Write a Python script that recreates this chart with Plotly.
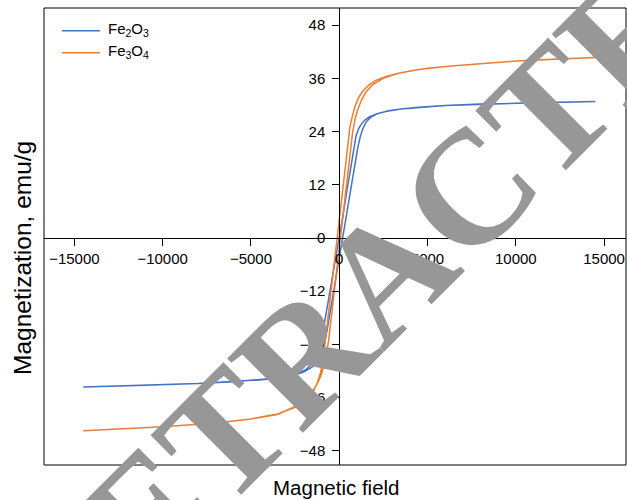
import plotly.graph_objects as go

# Hysteresis loops: magnetization (emu/g) against applied magnetic field
series_names = ["Fe<sub>2</sub>O<sub>3</sub>", "Fe<sub>3</sub>O<sub>4</sub>"]
series_colors = ["#4472C4", "#ED7D31"]

# Fe2O3 - field sweep from +H to -H (upper branch)
fe2o3_h_down = [14500, 11000, 8000, 6000, 4500, 3500, 2700, 2100, 1700, 1450, 1250, 1100,
                950, 800, 600, 400, 200, 0, -200, -400, -600, -800, -950, -1100, -1300,
                -1550, -1900, -2500, -3500, -4500, -6000, -8000, -11000, -14500]
fe2o3_m_down = [30.8, 30.5, 30.2, 29.9, 29.5, 29.1, 28.6, 28.0, 27.3, 26.6, 25.7, 24.7,
                23.0, 19.6, 14.6, 9.8, 4.8, 0.0, -4.8, -9.6, -14.2, -18.6, -21.8, -24.4, -26.7,
                -28.4, -29.7, -30.8, -31.6, -32.0, -32.4, -32.8, -33.2, -33.6]

# Fe2O3 - field sweep from -H to +H (lower branch)
fe2o3_h_up = [-14500, -11000, -8000, -6000, -4500, -3500, -2500, -2000, -1500, -1200, -1000,
              -850, -700, -500, -300, -100, 100, 300, 500, 700, 900, 1050, 1200, 1350, 1550,
              1800, 2200, 2800, 3500, 4500, 6000, 8000, 11000, 14500]
fe2o3_m_up = [-33.6, -33.2, -32.8, -32.4, -32.0, -31.6, -30.9, -30.2, -29.0, -27.6, -25.9,
              -23.9, -21.1, -16.3, -11.5, -6.7, -1.9, 2.9, 7.7, 12.5, 17.2, 20.4, 23.0, 24.8, 26.3,
              27.3, 28.1, 28.7, 29.1, 29.5, 29.9, 30.2, 30.5, 30.8]

# Fe3O4 - field sweep from +H to -H (upper branch)
fe3o4_h_down = [14500, 12000, 10000, 8000, 6000, 4500, 3500, 2700, 2100, 1700, 1350, 1100,
                900, 750, 600, 450, 300, 150, 0, -150, -300, -450, -600, -750, -900, -1050,
                -1250, -1500, -1900, -2500, -3500, -5000, -7000, -10000, -12500, -14500]
fe3o4_m_down = [40.7, 40.3, 39.9, 39.3, 38.7, 38.0, 37.3, 36.5, 35.6, 34.6, 33.2, 31.7,
                29.8, 27.6, 25.0, 19.6, 14.3, 9.1, 3.9, -1.4, -6.7, -11.9, -17.2, -22.4, -27.0, -30.2,
                -32.8, -34.8, -36.6, -38.2, -39.7, -40.8, -41.7, -42.6, -43.1, -43.5]

# Fe3O4 - field sweep from -H to +H (lower branch)
fe3o4_h_up = [-14500, -12500, -10000, -7000, -5000, -3500, -2500, -1900, -1500, -1250, -1050,
              -900, -750, -600, -450, -300, -150, 0, 150, 300, 450, 600, 750, 900, 1050, 1250,
              1500, 1900, 2500, 3200, 4000, 5000, 6000, 8000, 10000, 12000, 14500]
fe3o4_m_up = [-43.5, -43.1, -42.6, -41.7, -40.8, -39.8, -38.0, -36.3, -34.5, -32.9, -31.2,
              -29.3, -26.7, -23.1, -17.9, -12.6, -7.4, -2.1, 3.2, 8.4, 13.7, 18.9, 23.6, 26.9, 29.0, 31.0,
              32.9, 34.6, 36.0, 37.0, 37.7, 38.3, 38.7, 39.3, 39.9, 40.3, 40.7]

x_ticks = [-15000, -10000, -5000, 0, 5000, 10000, 15000]
y_ticks = [-48, -36, -24, -12, 0, 12, 24, 36, 48]
x_range = [-16720, 16240]
y_range = [-51.2, 51.88]

watermark = "RETRACTED"

FONT = "Liberation Sans, Arial, sans-serif"


def minus(v):
    return str(v).replace("-", "\u2212")


loops = [
    (fe2o3_h_down + fe2o3_h_up, fe2o3_m_down + fe2o3_m_up),
    (fe3o4_h_down + fe3o4_h_up, fe3o4_m_down + fe3o4_m_up),
]

fig = go.Figure()
for (hx, my), color in zip(loops, series_colors):
    fig.add_trace(go.Scatter(x=hx, y=my, mode="lines",
                             line=dict(color=color, width=1.5),
                             showlegend=False, hoverinfo="skip"))

# axes cross at the origin
x_cross = (0 - x_range[0]) / (x_range[1] - x_range[0])
y_cross = (0 - y_range[0]) / (y_range[1] - y_range[0])

fig.update_layout(
    width=627, height=500,
    margin=dict(l=44, r=1, t=8, b=35),
    paper_bgcolor="white", plot_bgcolor="white",
    font=dict(family=FONT, size=15, color="black"),
    xaxis=dict(range=x_range, showgrid=False, zeroline=False,
               showline=True, linecolor="black", linewidth=1,
               anchor="free", position=y_cross, side="bottom",
               ticks="outside", ticklen=7, tickcolor="black",
               tickvals=x_ticks, ticktext=[minus(v) for v in x_ticks],
               tickfont=dict(family=FONT, size=15, color="black")),
    yaxis=dict(range=y_range, showgrid=False, zeroline=False,
               showline=True, linecolor="black", linewidth=1,
               anchor="free", position=x_cross, side="left",
               ticks="outside", ticklen=7, tickcolor="black",
               ticklabelstandoff=4,
               tickvals=y_ticks, ticktext=[minus(v) for v in y_ticks],
               tickfont=dict(family=FONT, size=15, color="black")),
)

# plot frame
fig.add_shape(type="rect", xref="paper", yref="paper", x0=0, x1=1, y0=0, y1=1,
              line=dict(color="black", width=1), layer="above")

# legend
PW, PH = 582, 457


def px(x):
    return (x - 44) / PW


def py(y):
    return (465 - y) / PH


for i, (name, color) in enumerate(zip(series_names, series_colors)):
    yy = 30.7 + 22 * i
    fig.add_shape(type="line", xref="paper", yref="paper",
                  x0=px(62), x1=px(100), y0=py(yy), y1=py(yy),
                  line=dict(color=color, width=1.5))
    fig.add_annotation(xref="paper", yref="paper", x=px(106), y=py(yy - 1),
                       xanchor="left", yanchor="middle", showarrow=False,
                       text=name, font=dict(family=FONT, size=15, color="black"))

# axis titles
fig.add_annotation(xref="paper", yref="paper", x=px(336), y=py(488),
                   xanchor="center", yanchor="middle", showarrow=False,
                   text="Magnetic field", font=dict(family=FONT, size=20.5, color="black"))
fig.add_annotation(xref="paper", yref="paper", x=px(22), y=py(258),
                   xanchor="center", yanchor="middle", showarrow=False, textangle=-90,
                   text="Magnetization, emu/g", font=dict(family=FONT, size=24.5, color="black"))

# watermark
fig.add_annotation(xref="paper", yref="paper", x=px(385), y=py(273),
                   xanchor="center", yanchor="middle", showarrow=False, textangle=-45,
                   text=watermark,
                   font=dict(family="Liberation Serif, Times New Roman, serif", size=162,
                             color="#979797", weight="bold"))

fig.write_html("out.html")
